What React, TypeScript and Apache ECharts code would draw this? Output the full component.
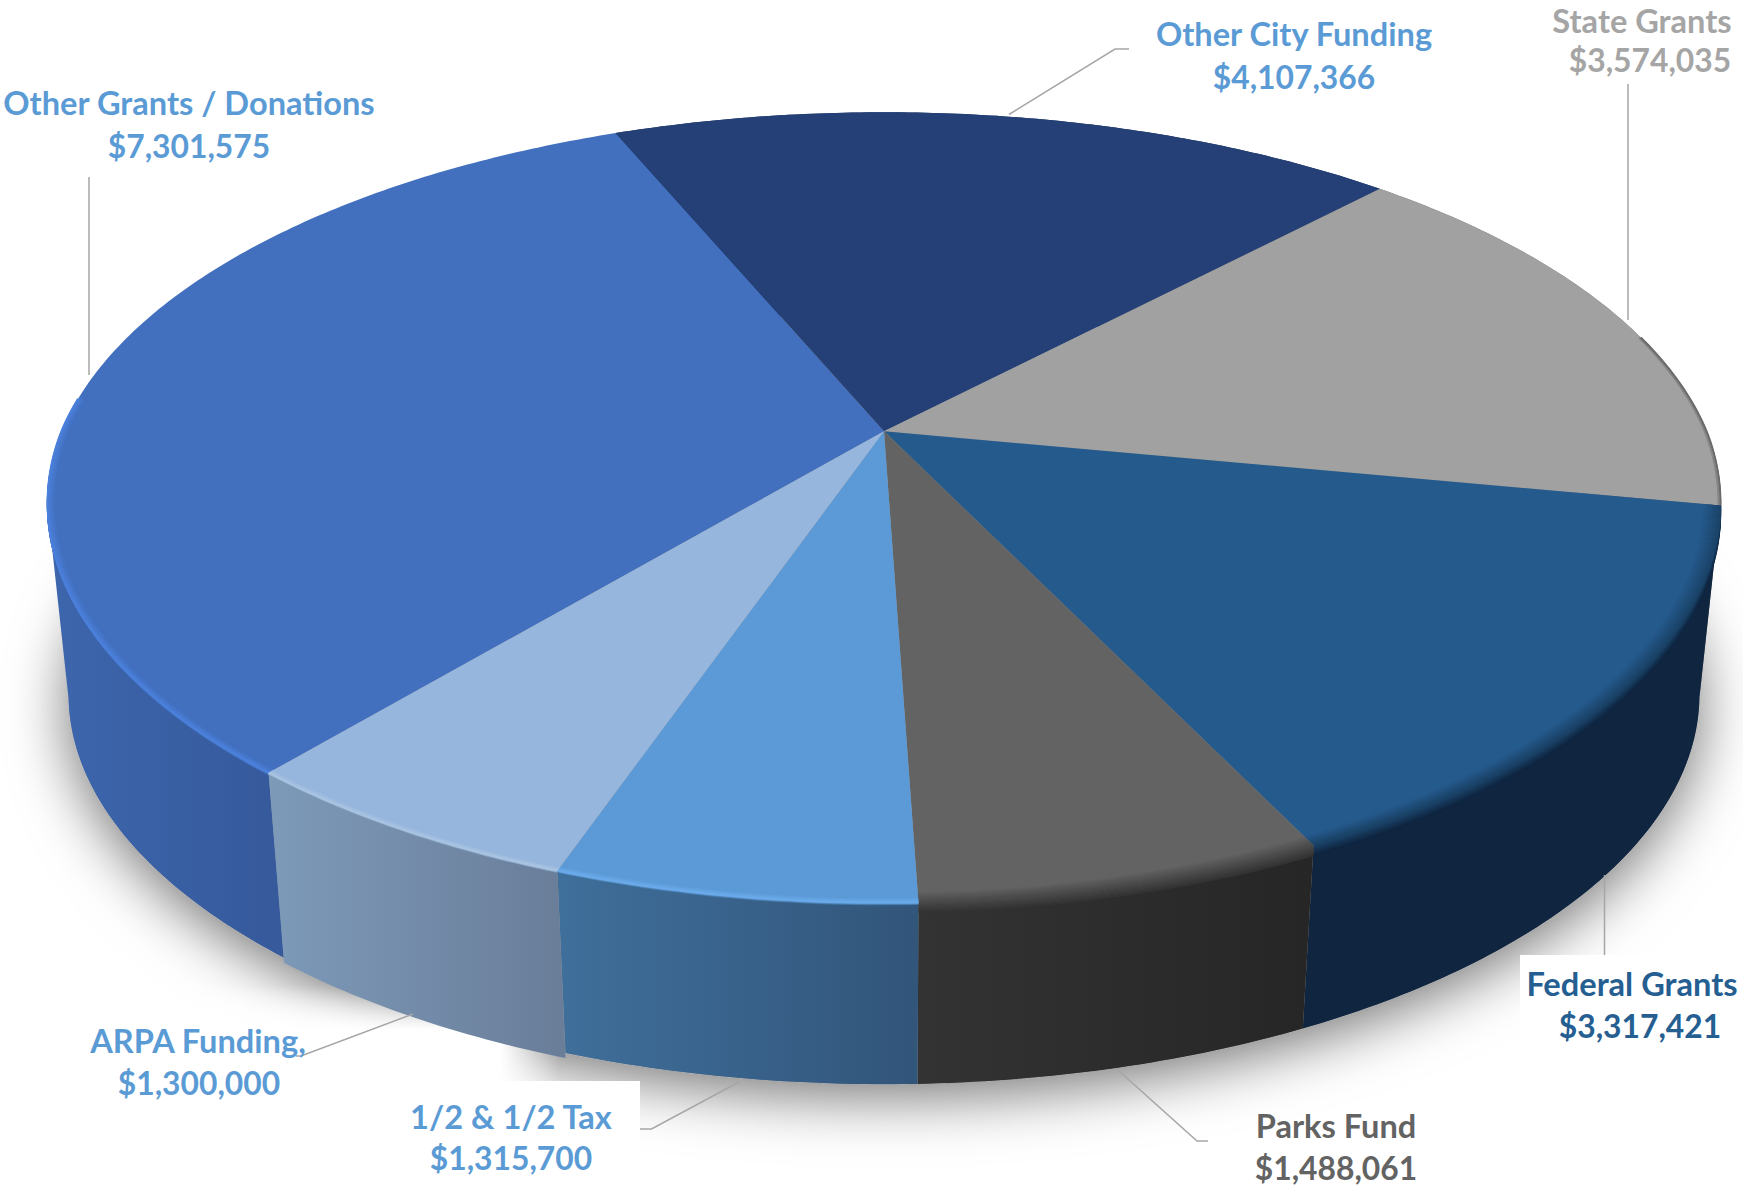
import React, { useEffect, useRef } from "react";
import * as echarts from "echarts";

const names = ["Other Grants / Donations", "Other City Funding", "State Grants", "Federal Grants", "Parks Fund", "1/2 & 1/2 Tax", "ARPA Funding,"];
const values = [7301575, 4107366, 3574035, 3317421, 1488061, 1315700, 1300000];

const faceColors = ["#4270bf", "#244077", "#a1a1a1", "#255a8c", "#636363", "#5b9ad6", "#97b6dd"];
const wallStart = ["#3d66ad", "#1a2f58", "#6e6e6e", "#0f2540", "#333333", "#3f6f9b", "#7d9ab9"];
const wallEnd = ["#365a9c", "#1a2f58", "#6e6e6e", "#0f2540", "#262626", "#32557a", "#6a7e9a"];
const rimMid = ["#4b80dc", "#244077", "#6a6a6a", "#1a4166", "#494949", "#6aaaea", "#a8c3e2"];
const labelColors = ["#5b9bd5", "#5b9bd5", "#a5a5a5", "#255e91", "#636363", "#5b9bd5", "#5b9bd5"];

const CX = 884, CY = 431.3, RX = 822.6, RY = 380.5, P = 0.1927, FRONT_SQUEEZE = 0.012;
const START = 229.93, BOTTOM_SCALE = 0.975, DROP = 193.4, OUTLINE_DEG = 191;
const wallExtra = [0, 0, 0, 0, 0, 0, 5];
const rimHalf = [4, 0, 2, 9, 9, 4, 3];
const rimHigh = [999, 999, 15, 999, 999, 999, 999];
const rimLow = [175, -999, -999, -999, -999, -999, -999];

const labelPos = [
  [189, 102.5, 189, 146], [1294, 33.5, 1294, 76.7], [1642, 20, 1650, 60], [1632, 983, 1640, 1026],
  [1336, 1125, 1336, 1168], [511, 1116, 511, 1158], [198, 1040, 199, 1083],
];
const leaders = [
  [[89, 177], [89, 375]],
  [[1009, 114.5], [1115, 49], [1129, 49]],
  [[1628, 84], [1628, 320]],
  [[1604.5, 875], [1604.5, 955]],
  [[1119, 1071], [1197, 1141], [1208, 1141]],
  [[739, 1082], [651.5, 1129], [640, 1129]],
  [[413, 1014], [301, 1056], [296, 1056]],
];
const whiteBoxes = [[1520, 955, 223, 90], [545, 1081, 95, 109], [0, 1030, 500, 160], [500, 1081, 45, 109]];
const fadeRight = [500, 1030, 60, 51];
const fadeTop = [0, 985, 500, 45];

const total = values.reduce((a, b) => a + b, 0);
const rad = (d: number) => (d * Math.PI) / 180;
function sliceAngles(i: number) {
  let before = 0;
  for (let k = 0; k < i; k++) before += values[k];
  return [START - (before / total) * 360, START - ((before + values[i]) / total) * 360];
}
function proj(deg: number, scale = 1, drop = 0, e = 0) {
  const X = Math.cos(rad(deg)), Y = Math.sin(rad(deg)), w = 1 + P * Y;
  const sx = (scale * RX * X / w) * (1 - FRONT_SQUEEZE * Math.max(0, -Y)), sy = -scale * RY * Y / w;
  return [CX + sx * (1 + e), CY + sy * (1 + e) + drop];
}
function arc(a0: number, a1: number, scale = 1, drop = 0, e = 0) {
  const n = Math.max(2, Math.ceil(Math.abs(a1 - a0) * 1.5));
  const pts: number[][] = [];
  for (let j = 0; j <= n; j++) pts.push(proj(a0 + ((a1 - a0) * j) / n, scale, drop, e));
  return pts;
}
function hex(c: string) { return [1, 3, 5].map((i) => parseInt(c.slice(i, i + 2), 16)); }
function mix(a: string, b: string, t: number) {
  const A = hex(a), B = hex(b);
  return "rgb(" + A.map((v, i) => Math.round(v + (B[i] - v) * t)).join(",") + ")";
}
function fadeRect(b: number[], x2: number, y2: number, from: string, to: string) {
  return {
    type: "rect",
    shape: { x: b[0], y: b[1], width: b[2], height: b[3] },
    style: { fill: { type: "linear", x: 0, y: 0, x2, y2, colorStops: [{ offset: 0, color: from }, { offset: 1, color: to }] } },
  };
}

function renderShadow() {
  const ring = arc(0, 360, BOTTOM_SCALE, DROP);
  return {
    type: "group",
    children: [
      { type: "polygon", shape: { points: ring }, style: { fill: "#999", shadowBlur: 60, shadowColor: "rgba(0,0,0,0.55)", shadowOffsetY: 12 } },
      fadeRect(fadeRight, 1, 0, "rgba(255,255,255,1)", "rgba(255,255,255,0)"),
      fadeRect(fadeTop, 0, 1, "rgba(255,255,255,0)", "rgba(255,255,255,1)"),
      ...whiteBoxes.map((b) => ({ type: "rect", shape: { x: b[0], y: b[1], width: b[2], height: b[3] }, style: { fill: "#ffffff" } })),
    ],
  };
}
function renderWall(params: any) {
  const i = params.dataIndex;
  const [a0, raw1] = sliceAngles(i);
  const a1 = i === 0 ? OUTLINE_DEG : raw1;
  const top = arc(a0, a1);
  const bottom = arc(a1, a0, BOTTOM_SCALE, DROP + wallExtra[i]);
  const xs = top.map((p) => p[0]);
  return {
    type: "polygon",
    shape: { points: top.concat(bottom) },
    style: {
      fill: {
        type: "linear", global: true, x: Math.min(...xs), y: 0, x2: Math.max(...xs), y2: 0,
        colorStops: [{ offset: 0, color: wallStart[i] }, { offset: 1, color: wallEnd[i] }],
      },
    },
  };
}
function renderFace(params: any) {
  const i = params.dataIndex;
  const [a0, a1] = sliceAngles(i);
  const children: any[] = [];
  const h = rimHalf[i];
  const from = Math.min(a0, rimHigh[i]);
  const to = Math.max(a1, rimLow[i]);
  for (let k = h; k >= 1; k--) {
    children.push({
      type: "polyline",
      shape: { points: arc(from, to, 1, k * (h > 5 ? 1.1 : 0.5)) },
      style: { fill: "none", stroke: mix(rimMid[i], wallStart[i], k / h), lineWidth: 1.5 },
    });
  }
  children.push({ type: "polygon", shape: { points: [[CX, CY], ...arc(a0, a1)] }, style: { fill: faceColors[i] } });
  for (let k = h; k >= 0 && h > 0; k--) {
    const e = -(k * 1.1) / 471;
    children.push({
      type: "polyline",
      shape: { points: arc(from, to, 1, 0, e) },
      style: { fill: "none", stroke: mix(faceColors[i], rimMid[i], 1 - k / h), lineWidth: 2 },
    });
  }
  return { type: "group", children };
}
function renderLabel(params: any, api: any) {
  const i = params.dataIndex;
  const lp = labelPos[i];
  const money = "$" + Number(api.value(0)).toLocaleString("en-US");
  const mk = (text: string, x: number, y: number, size: number) => ({
    type: "text",
    style: { text, x, y, fill: labelColors[i], font: `bold ${size}px Lato`, lineHeight: 30, align: "center", verticalAlign: "middle", textAlign: "center", textVerticalAlign: "middle" },
  });
  return {
    type: "group",
    children: [
      { type: "polyline", shape: { points: leaders[i] }, style: { fill: "none", stroke: "#a6a6a6", lineWidth: 1.5 } },
      mk(names[i], lp[0], lp[1], 32.6),
      mk(money, lp[2], lp[3], 31.8),
    ],
  };
}

export default function App() {
  const ref = useRef<HTMLDivElement>(null);
  useEffect(() => {
    const chart = echarts.init(ref.current!, undefined, { renderer: "svg" });
    const mk = (name: string, z: number, renderItem: any, data: any[]) => ({
      type: "custom", name, coordinateSystem: "none", z, silent: true, clip: false, renderItem, data,
    });
    chart.setOption({
      animation: false,
      backgroundColor: "#ffffff",
      series: [
        mk("shadow", 1, renderShadow, [total]),
        mk("walls", 2, renderWall, values),
        mk("faces", 3, renderFace, values),
        mk("labels", 4, renderLabel, values),
      ],
    });
    return () => chart.dispose();
  }, []);
  return <div ref={ref} style={{ position: "absolute", left: 0, top: 0, width: 1743, height: 1190 }} />;
}
